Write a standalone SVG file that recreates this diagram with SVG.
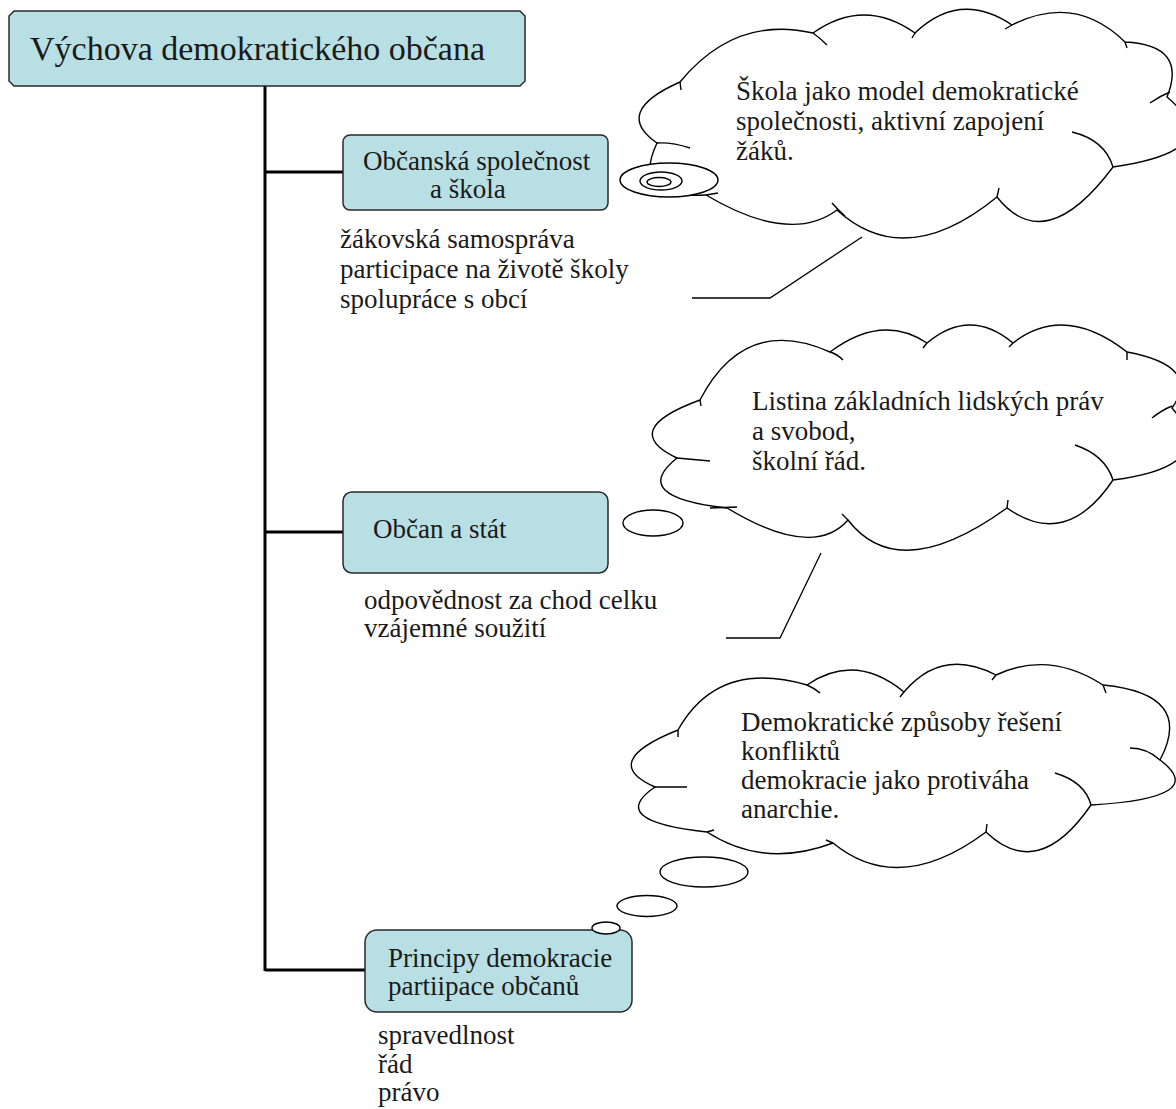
<svg xmlns="http://www.w3.org/2000/svg" width="1176" height="1109" viewBox="0 0 1176 1109">
<style>
  text { font-family: "Liberation Serif", "Times New Roman", serif; fill: #1a1a1a; }
  .t27 { font-size: 27px; }
  .title { font-size: 34px; }
  .box { fill: #b8dfe3; stroke: #2a2a2a; stroke-width: 1.5; }
  .conn { stroke: #000; stroke-width: 3; fill: none; }
  .cloud { fill: #fff; stroke: #000; stroke-width: 1.4; stroke-linejoin: round; }
  .hook { fill: none; stroke: #000; stroke-width: 1.4; }
  .bub { fill: #fff; stroke: #000; stroke-width: 1.4; }
  .callout { fill: none; stroke: #000; stroke-width: 1.3; }
</style>
<rect width="1176" height="1109" fill="#fff"/>

<g id="connectors">
  <path class="conn" d="M265,86 V971 M265,172 H343 M265,532 H343 M265,970 H365"/>
  <path class="callout" d="M692,298 H770 L862,237"/>
  <path class="callout" d="M726,638 H780 L821,553"/>
</g>

<g id="title">
  <path class="box" d="M14,11 H520 L525,16 V81 L520,86 H14 L9,81 V16 Z"/>
  <text class="title" x="30" y="60">Výchova demokratického občana</text>
</g>

<g id="node1">
  <rect class="box" x="343" y="135" width="265" height="75" rx="7"/>
  <text class="t27" x="363" y="170">Občanská společnost</text>
  <text class="t27" x="430" y="198">a škola</text>
</g>
<g id="node1-notes">
  <text class="t27" x="340" y="248">žákovská samospráva</text>
  <text class="t27" x="340" y="278">participace na životě školy</text>
  <text class="t27" x="340" y="308">spolupráce s obcí</text>
</g>

<g id="cloud1">
  <path class="cloud" d="M657,143 Q612,112 680,82 Q735,15 813,33 Q864,-3 915,33 Q960,-10 1012,25 Q1075,-7 1125,42 Q1188,45 1167,97 Q1230,150 1113,167 Q1045,258 997,197 Q905,272 837,210 Q790,245 706,195 Q630,200 657,143 Z"/>
  <path class="hook" d="M657,143 Q672,142 690,148 M680,82 L681,90 M813,33 Q820,38 827,45 M915,33 L912,38 M1012,25 L1005,29 M1125,42 L1127,48 M1150,103 Q1160,96 1170,92 M1072,132 Q1105,140 1113,167 M997,197 L999,188 M832,203 Q838,210 845,216 M706,195 L718,193"/>
  <ellipse class="bub" cx="669" cy="180" rx="49" ry="17"/>
  <ellipse class="bub" cx="661" cy="181" rx="21" ry="9"/>
  <ellipse class="bub" cx="659" cy="182" rx="12" ry="4.5"/>
  <text class="t27" x="736" y="100">Škola jako model demokratické</text>
  <text class="t27" x="736" y="130">společnosti, aktivní zapojení</text>
  <text class="t27" x="736" y="160">žáků.</text>
</g>

<g id="node2">
  <rect class="box" x="343" y="492" width="265" height="81" rx="9"/>
  <text class="t27" x="373" y="538">Občan a stát</text>
</g>
<g id="node2-notes">
  <text class="t27" x="364" y="609">odpovědnost za chod celku</text>
  <text class="t27" x="364" y="637">vzájemné soužití</text>
</g>

<g id="cloud2">
  <path class="cloud" d="M677,458 Q618,430 700,400 Q745,314 830,352 Q882,313 927,343 Q970,307 1013,343 Q1064,303 1127,352 Q1202,366 1172,408 Q1222,466 1113,480 Q1066,550 1007,508 Q899,586 848,520 Q813,560 727,508 Q628,497 677,458 Z"/>
  <path class="hook" d="M677,458 L710,461 M700,400 L701,406 M830,352 Q837,354 843,360 M927,343 L923,348 M1013,343 L1009,347 M1127,352 L1127,360 M1152,418 Q1162,410 1172,406 M1075,445 Q1105,455 1113,480 M1007,508 L1008,500 M848,520 L842,514 M710,508 L737,507"/>
  <ellipse class="bub" cx="653" cy="523" rx="30" ry="13"/>
  <text class="t27" x="752" y="410">Listina základních lidských práv</text>
  <text class="t27" x="752" y="440">a svobod,</text>
  <text class="t27" x="752" y="470">školní řád.</text>
</g>

<g id="node3">
  <rect class="box" x="365" y="930" width="267" height="82" rx="12"/>
  <text class="t27" x="388" y="967">Principy demokracie</text>
  <text class="t27" x="388" y="995">partiipace občanů</text>
</g>
<g id="node3-notes">
  <text class="t27" x="378" y="1044">spravedlnost</text>
  <text class="t27" x="378" y="1073">řád</text>
  <text class="t27" x="378" y="1101">právo</text>
</g>

<g id="cloud3">
  <path class="cloud" d="M655,787 Q598,762 678,730 Q718,659 807,685 Q855,652 904,692 Q942,647 996,675 Q1049,650 1103,685 Q1195,694 1160,760 Q1211,798 1091,805 Q1038,882 986,832 Q899,897 833,843 Q764,869 707,832 Q605,821 655,787 Z"/>
  <path class="hook" d="M655,787 L687,787 M678,730 L678,737 M807,685 Q814,688 820,693 M904,692 L900,697 M996,675 L992,680 M1103,685 L1106,693 M1130,748 Q1147,748 1160,760 M1055,773 Q1085,782 1091,805 M986,832 L987,824 M833,843 L826,840 M707,832 L714,830"/>
  <ellipse class="bub" cx="704" cy="872" rx="44" ry="15"/>
  <ellipse class="bub" cx="647" cy="906" rx="30" ry="10.5"/>
  <ellipse class="bub" cx="606" cy="928" rx="14" ry="6"/>
  <text class="t27" x="741" y="731">Demokratické způsoby řešení</text>
  <text class="t27" x="741" y="760">konfliktů</text>
  <text class="t27" x="741" y="789">demokracie jako protiváha</text>
  <text class="t27" x="741" y="818">anarchie.</text>
</g>
</svg>
